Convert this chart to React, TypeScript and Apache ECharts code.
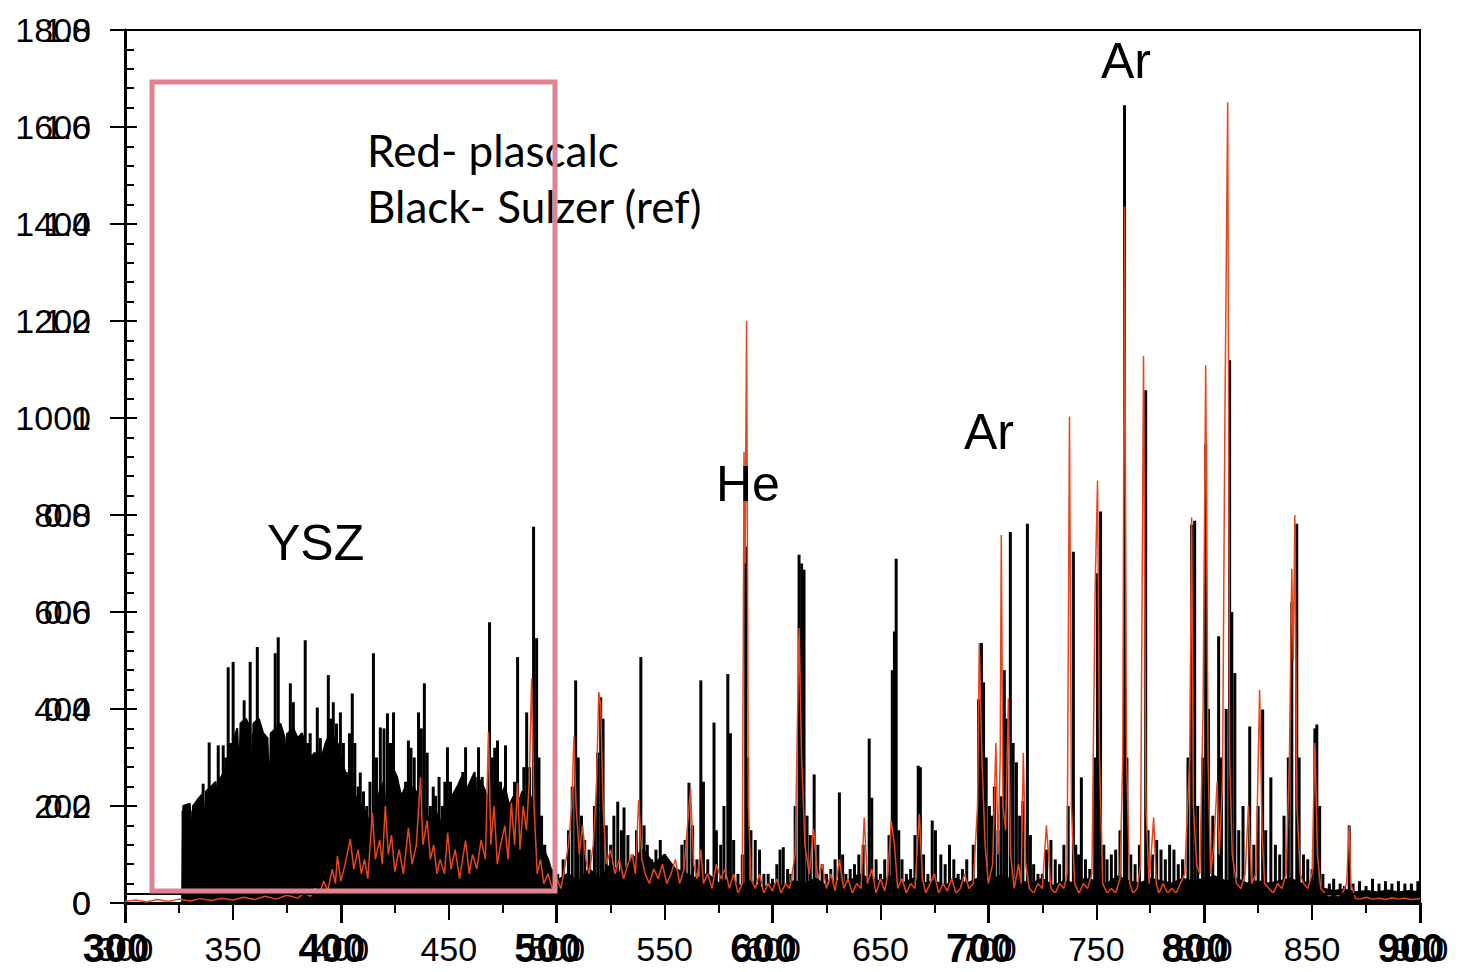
import React, { useEffect, useRef } from "react";
import * as echarts from "echarts";

// Black (Sulzer reference) dense background mass, [wavelength nm, intensity]
const blackEnvelope: [number, number][] = [
  [326.5, 0], [327, 200], [330, 205], [331, 120], [331.5, 200], [334, 215], [336, 225], [337, 140],
  [337.5, 230], [340, 240], [342, 250], [343.5, 150], [344, 255], [346, 270], [348, 300], [350, 330],
  [352, 360], [353, 250], [353.5, 370], [356, 380], [358, 360], [359, 220], [359.5, 370], [362, 380],
  [364, 350], [366, 340], [367, 200], [367.5, 350], [370, 360], [372, 370], [374, 340], [375, 230],
  [375.5, 350], [378, 360], [380, 340], [382, 350], [384, 320], [386, 300], [388, 310], [389, 180],
  [389.5, 310], [391, 300], [393, 330], [395, 350], [397, 340], [398, 200], [398.5, 330], [400, 300],
  [402, 270], [404, 250], [406, 230], [407, 140], [407.5, 220], [410, 200], [412, 180], [414, 160],
  [416, 200], [418, 230], [420, 250], [421, 140], [421.5, 260], [424, 280], [426, 260], [428, 220],
  [430, 240], [432, 250], [433, 150], [433.5, 240], [436, 220], [438, 200], [440, 180], [442, 170],
  [444, 190], [446, 160], [448, 200], [450, 210], [451, 120], [451.5, 220], [454, 240], [456, 260],
  [458, 230], [460, 250], [462, 270], [463, 150], [463.5, 260], [466, 240], [468, 220], [470, 230],
  [472, 250], [474, 220], [476, 240], [478, 200], [480, 220], [482, 200], [484, 230], [486, 210],
  [488, 220], [490, 160], [492, 140], [494, 110], [496, 90], [498, 60], [500, 45],
  [505, 60], [510, 45], [515, 70], [520, 50], [525, 80], [530, 60], [535, 90], [540, 110],
  [545, 80], [550, 100], [555, 70], [560, 60], [565, 50], [570, 60], [575, 40], [580, 50],
  [585, 35], [590, 45], [595, 30], [600, 40], [605, 35], [610, 45], [615, 40], [620, 50],
  [625, 35], [630, 45], [635, 40], [640, 60], [645, 50], [650, 45], [655, 55], [660, 40],
  [665, 50], [670, 40], [675, 45], [680, 35], [685, 50], [690, 40], [695, 50], [700, 45],
  [705, 55], [710, 50], [715, 45], [720, 40], [725, 50], [730, 35], [735, 45], [740, 40],
  [745, 50], [750, 45], [755, 40], [760, 55], [765, 45], [770, 40], [775, 50], [780, 45],
  [785, 40], [790, 50], [795, 45], [800, 50], [805, 55], [810, 45], [815, 50], [820, 40],
  [825, 45], [830, 40], [835, 45], [840, 50], [845, 40], [850, 45], [855, 30], [860, 25],
  [865, 28], [870, 22], [875, 25], [880, 22], [885, 26], [890, 22], [895, 25], [900, 22],
];

// Black (Sulzer reference) emission lines, [wavelength nm, intensity]
const blackPeaks: [number, number][] = [
  [326.9, 190], [328.5, 175], [330.2, 190], [331.8, 160], [333.4, 190], [335, 180], [336.2, 246],
  [337.5, 200], [339.0, 331], [340.5, 210], [341.8, 230], [343.2, 325], [344.3, 260], [345.5, 325],
  [346.7, 300], [347.8, 486], [348.9, 330], [350.1, 497], [351.3, 310], [352.5, 280], [353.8, 330],
  [355.2, 418], [356.6, 360], [358.0, 497], [359.5, 350], [361.3, 528], [362.5, 360], [364.0, 331],
  [365.5, 300], [367, 280], [368.3, 350], [369.6, 515], [371.0, 548], [372.5, 330], [374, 300],
  [375.3, 350], [376.6, 453], [378.0, 414], [379.5, 300], [381, 320], [382.3, 290], [383.5, 542],
  [384.7, 330], [385.8, 350], [387.3, 300], [389.1, 403], [390.5, 340], [392, 300], [393.2, 330],
  [394.2, 470], [395.3, 380], [396.5, 414], [398, 370], [399.8, 393], [401.2, 330], [402.5, 270],
  [404, 350], [405.3, 432], [406.5, 330], [408, 240], [409.0, 269], [410.5, 230], [412, 200],
  [413.5, 250], [415.1, 515], [416.5, 300], [418.3, 362], [420, 360], [421.6, 391], [423, 330],
  [424.4, 393], [425.8, 260], [427, 220], [428.5, 200], [430, 250], [431.3, 335], [432.5, 320],
  [434, 300], [436.0, 393], [437.3, 360], [438.7, 453], [440, 310], [441.5, 200], [442.8, 240],
  [443.9, 221], [445.5, 260], [447, 200], [448.2, 250], [449.4, 321], [450.8, 250], [452.5, 200],
  [454.1, 228], [455.5, 220], [456.5, 270], [457.8, 321], [459, 240], [460.5, 200], [462.3, 260],
  [463.8, 321], [465.5, 260], [467.3, 200], [468.9, 579], [470.2, 300], [471.3, 320], [472.6, 335],
  [474, 250], [476.3, 325], [477.5, 200], [479, 180], [480.5, 250], [481.9, 507], [483.3, 200],
  [484.8, 280], [486.1, 393], [487.5, 280], [489.3, 776], [490.7, 546], [491.8, 300], [493, 180],
  [494.5, 120], [495.8, 91], [497.5, 70],
  [500.5, 60], [503, 90], [505.5, 150], [507.2, 240], [508.8, 459], [510, 300], [511.5, 180],
  [513, 130], [515, 110], [517.5, 200], [519, 310], [520.4, 424], [521.5, 380], [523, 160],
  [525, 120], [526.5, 180], [528.3, 209], [530, 150], [531.2, 197], [533, 140], [535, 100],
  [537, 150], [539.0, 507], [540.5, 160], [542, 120], [544, 90], [546, 110], [548, 130],
  [550, 100], [552, 80], [554, 60], [556, 70], [558, 120], [559.5, 130], [561.3, 248], [563, 160],
  [565, 90], [566.8, 459], [568, 250], [570, 90], [572.9, 372], [574, 150], [576, 120],
  [577.5, 200], [579.3, 472], [580.5, 350], [582, 130], [584, 60], [586, 100], [587.6, 735],
  [588.5, 300], [590, 150], [592, 130], [594, 110], [596, 60], [598, 60], [600, 50], [602, 80],
  [603.5, 110], [605, 115], [607, 70], [608.5, 60], [610.5, 200], [612.3, 718], [613.5, 700],
  [614.6, 687], [616, 180], [617.5, 140], [619.3, 265], [621, 120], [623, 80], [625, 60],
  [627, 70], [629, 90], [631, 228], [632.5, 100], [634, 60], [636, 70], [638, 80], [640, 100],
  [642, 120], [644.8, 339], [646, 217], [648, 90], [650, 60], [652, 90], [654, 140], [655.5, 480],
  [656.5, 560], [657.3, 710], [658.5, 150], [660, 90], [662, 60], [664, 70], [666, 140],
  [667.5, 283], [668.5, 280], [670, 100], [672, 60], [674, 170], [675.5, 150], [678, 100],
  [680, 80], [682, 120], [684, 90], [686, 60], [688, 70], [690, 90], [693, 120], [695.5, 420],
  [696.8, 536], [697.8, 455], [699, 300], [700.5, 200],
  [701.5, 180], [702.8, 240], [704.5, 150], [706, 220], [707.4, 480], [708.5, 380], [710.2, 765],
  [711.5, 330], [713, 290], [714.5, 180], [716, 210], [718.1, 782], [719.5, 140], [721, 80],
  [723, 60], [725, 60], [727, 110], [729, 130], [731, 90], [733, 80], [735, 120], [737, 200],
  [739.4, 724], [740.5, 120], [741.8, 100], [743.1, 259], [745, 90], [747, 70], [749.3, 300],
  [750.6, 680], [752.0, 807], [753.5, 120], [755, 90], [757, 100], [759, 110], [761, 150],
  [763.1, 1645], [764.2, 300], [766, 100], [768, 80], [770, 120], [772.9, 1057], [774, 150],
  [776, 100], [778, 130], [780, 110], [782, 90], [784, 120], [786, 110], [788, 80], [790, 90],
  [792.5, 300], [794.2, 780], [795.6, 788], [797, 200], [799.3, 300], [800.7, 946], [802, 400],
  [804, 180], [806.7, 550], [808, 300], [810.2, 400], [811.8, 1119], [812.8, 600], [814.2, 474],
  [816, 150], [818, 200], [821.1, 364], [823, 120], [825, 200], [827.1, 399], [828.5, 150],
  [830.9, 259], [833, 120], [835, 100], [837, 180], [839, 300], [840.6, 620], [842.9, 782],
  [844, 300], [846, 100], [848, 90], [850, 70], [851.3, 360], [852.2, 368], [853.5, 200],
  [855, 60], [858, 40], [860, 50], [863, 40], [865, 35], [867.2, 160], [869, 40], [872, 45],
  [875, 35], [878, 50], [881, 40], [884, 45], [887, 40], [890, 45], [893, 40], [896, 40], [899, 45],
];

// Red (plascalc) calculated spectrum, [wavelength nm, intensity]
const redSpectrum: [number, number][] = [
  [300, 3], [305, 6], [310, 2], [315, 7], [320, 3], [325, 8], [330, 4], [335, 9], [340, 5],
  [345, 10], [350, 6], [355, 12], [360, 7], [365, 14], [370, 8], [375, 16], [380, 10], [383, 20],
  [386, 14], [388, 30], [390, 18], [392, 45], [394, 25], [396, 70], [397.5, 40], [398.4, 97],
  [400, 45], [402, 80], [404.4, 132], [406, 70], [408, 110], [409.5, 60], [411, 90], [412.5, 50],
  [414.6, 186], [416, 90], [418, 130], [419.2, 80], [420.6, 200], [422, 100], [423.5, 140],
  [425, 64], [427, 110], [429, 60], [431.3, 155], [433, 80], [435, 120], [436.9, 259], [438, 120],
  [440, 170], [441.5, 90], [443, 120], [444.5, 60], [446, 90], [448, 60], [449.5, 145], [451, 70],
  [453, 110], [455, 50], [457.8, 129], [459.5, 60], [461, 100], [463, 70], [465, 130], [467, 90],
  [468.4, 352], [469.5, 120], [471, 200], [472.5, 80], [474, 120], [476, 159], [477.5, 90],
  [479, 207], [480.5, 120], [481.9, 248], [483, 110], [484.5, 200], [486, 150], [487.3, 250],
  [488.4, 463], [489.5, 200], [491, 60], [492.5, 90], [494, 40], [496, 60], [498, 30], [500, 50],
  [502, 30], [504, 80], [505.5, 120], [507, 200], [508, 343], [509, 200], [510.5, 100],
  [512, 160], [513.5, 90], [515, 60], [517, 120], [518.5, 250], [519.5, 435], [520.4, 408],
  [521.5, 200], [523, 80], [525, 110], [527, 60], [529, 90], [531, 50], [533, 80], [535, 100],
  [536.5, 60], [538, 213], [539.5, 90], [541, 60], [543, 40], [545, 70], [547, 50], [549, 80],
  [551, 40], [553, 60], [555, 90], [557, 40], [559, 70], [562, 236], [563.5, 80], [565, 50],
  [566.8, 110], [568, 40], [570, 60], [572, 30], [574, 80], [576, 50], [578, 70], [580, 30],
  [582, 60], [584, 20], [586, 40], [586.8, 930], [587.3, 700], [588, 1200], [588.8, 200],
  [590, 50], [592, 30], [594, 60], [596, 20], [598, 40], [600, 25], [602, 50], [604, 20],
  [606, 40], [608, 30], [610.5, 100], [612.3, 567], [613.5, 300], [615, 120], [617, 60],
  [619, 153], [621, 50], [623, 80], [625, 30], [627, 60], [629, 25], [631, 90], [633, 30],
  [635, 50], [637, 20], [639, 40], [641, 30], [642.5, 176], [644, 40], [646, 70], [648, 20],
  [650, 50], [652, 25], [653.5, 60], [655, 170], [656.5, 120], [658, 30], [660, 50], [662, 20],
  [664, 40], [666, 30], [668, 184], [669.5, 50], [671, 20], [673, 40], [675, 60], [677, 20],
  [679, 40], [681, 25], [683, 50], [685, 20], [687, 30], [689, 60], [691, 30], [693, 40],
  [695, 200], [695.8, 536], [697, 300], [698.5, 120], [700, 40], [702, 80], [703.5, 330],
  [704.5, 100], [705.5, 300], [706.0, 759], [706.8, 200], [708, 150], [709.3, 422], [710.3, 100],
  [712, 30], [714, 80], [715.2, 40], [716.2, 310], [717.3, 80], [719, 30], [721, 20], [723, 40],
  [725, 30], [726.9, 160], [729, 30], [731, 20], [733, 40], [735, 30], [736.5, 60], [737.6, 1003],
  [738.5, 200], [740, 40], [742, 20], [744, 40], [746, 30], [748, 60], [749.5, 650], [750.6, 871],
  [751.5, 300], [753, 40], [755, 20], [757, 30], [759, 20], [761, 50], [762.3, 300], [763.1, 1436],
  [764, 300], [765.5, 40], [767, 20], [769, 30], [770.5, 80], [771.9, 1128], [773, 200],
  [774.5, 40], [776.6, 176], [777.8, 40], [779, 20], [781, 40], [783, 20], [785, 30], [787, 20],
  [789, 40], [791, 60], [793.3, 300], [794.2, 795], [795, 200], [796.5, 80], [798, 60],
  [799.5, 400], [800.7, 1109], [801.8, 300], [803, 60], [804.5, 120], [806, 250], [807, 100],
  [808.5, 250], [809.6, 993], [810.9, 1651], [811.8, 300], [813, 100], [815, 40], [817, 30],
  [819, 60], [820.5, 200], [822, 40], [824, 60], [825.7, 439], [826.8, 150], [828, 40], [830, 30],
  [832, 20], [834, 40], [836, 30], [838, 60], [839.5, 300], [840.6, 689], [841.3, 500],
  [842.0, 800], [843, 200], [844.5, 60], [846, 40], [848, 30], [850, 60], [851.3, 330],
  [852.5, 100], [854, 30], [856, 20], [858, 15], [860, 20], [862, 15], [864, 20], [866, 40],
  [867.2, 160], [868, 40], [870, 10], [872, 8], [875, 12], [878, 8], [881, 10], [884, 7],
  [887, 11], [890, 8], [893, 10], [896, 7], [900, 9],
];

const legendLines = ["Red- plascalc", "Black- Sulzer (ref)"];
const peakLabels = ["YSZ", "He", "Ar", "Ar"];

export default function App() {
  const ref = useRef<HTMLDivElement>(null);

  useEffect(() => {
    if (!ref.current) return;
    const chart = echarts.init(ref.current, null, { renderer: "svg" });
    const font = "Liberation Sans, Arial, sans-serif";
    const black = "#000";
    const red = "#e6461b";
    const labelFont = { fontFamily: font, fontSize: 50, fill: "#000" };

    chart.setOption({
      animation: false,
      backgroundColor: "#fff",
      textStyle: { fontFamily: font },
      grid: {
        left: 125,
        right: 50,
        top: 30,
        bottom: 69,
        show: true,
        borderColor: black,
        borderWidth: 2,
      },
      xAxis: [
        {
          type: "value",
          min: 300,
          max: 900,
          interval: 100,
          position: "bottom",
          axisLine: { show: true, onZero: false, lineStyle: { color: black, width: 3 } },
          axisTick: { show: true, length: 20, lineStyle: { color: black, width: 3 } },
          axisLabel: {
            color: black,
            fontSize: 40,
            fontWeight: "bold",
            fontFamily: font,
            margin: 25,
            padding: [0, 18, 0, 0],
            formatter: (v: number) => String(v),
          },
          splitLine: { show: false },
        },
        {
          type: "value",
          min: 300,
          max: 900,
          interval: 50,
          position: "bottom",
          axisLine: { show: false, onZero: false },
          axisTick: { show: true, length: 17, lineStyle: { color: black, width: 2 } },
          minorTick: { show: true, splitNumber: 2, length: 10, lineStyle: { color: black, width: 2 } },
          axisLabel: { color: black, fontSize: 34, fontFamily: font, margin: 29, formatter: (v: number) => String(v) },
          splitLine: { show: false },
        },
      ],
      yAxis: [
        {
          type: "value",
          min: 0,
          max: 1800,
          interval: 200,
          position: "left",
          axisLine: { show: true, onZero: false, lineStyle: { color: black, width: 3 } },
          axisTick: { show: true, length: 15, lineStyle: { color: black, width: 2 } },
          axisLabel: {
            color: black,
            fontSize: 34,
            fontFamily: font,
            margin: 34,
            formatter: (v: number) => String(v),
          },
          splitLine: { show: false },
        },
        {
          type: "value",
          min: 0,
          max: 1.8,
          interval: 0.2,
          position: "left",
          axisLine: { show: false, onZero: false },
          axisTick: { show: true, inside: true, length: 12, lineStyle: { color: black, width: 2 } },
          minorTick: { show: true, splitNumber: 5, length: 9, lineStyle: { color: black, width: 2 } },
          axisLabel: {
            color: black,
            fontSize: 34,
            fontFamily: font,
            margin: 34,
            formatter: (v: number) => (v === 0 ? "0" : String(Math.round(v * 10) / 10)),
          },
          splitLine: { show: false },
        },
      ],
      series: [
        {
          name: "Sulzer background",
          type: "line",
          xAxisIndex: 0,
          yAxisIndex: 0,
          data: blackEnvelope,
          symbol: "none",
          lineStyle: { color: black, width: 2 },
          areaStyle: { color: black, opacity: 1 },
          z: 2,
          markLine: {
            silent: true,
            symbol: "none",
            label: { show: false },
            lineStyle: { color: black, width: 2, type: "solid" },
            data: [{ yAxis: 20 }],
          },
        },
        {
          name: "Black- Sulzer (ref)",
          type: "bar",
          xAxisIndex: 0,
          yAxisIndex: 0,
          data: blackPeaks,
          barWidth: 3,
          itemStyle: { color: black },
          z: 3,
        },
        {
          name: "Red- plascalc",
          type: "line",
          xAxisIndex: 0,
          yAxisIndex: 0,
          data: redSpectrum,
          symbol: "none",
          lineStyle: { color: red, width: 1.5 },
          z: 4,
        },
      ],
      graphic: [
        {
          type: "text",
          x: 367,
          y: 150,
          style: { text: legendLines[0], fontFamily: "Lato", fontSize: 44, fill: "#000", verticalAlign: "middle" },
          z: 10,
        },
        {
          type: "text",
          x: 367,
          y: 206,
          style: { text: legendLines[1], fontFamily: "Lato", fontSize: 44, fill: "#000", verticalAlign: "middle" },
          z: 10,
        },
        { type: "text", x: 267, y: 543, style: { ...labelFont, text: peakLabels[0], verticalAlign: "middle" }, z: 10 },
        { type: "text", x: 716, y: 484, style: { ...labelFont, text: peakLabels[1], verticalAlign: "middle" }, z: 10 },
        { type: "text", x: 964, y: 432, style: { ...labelFont, text: peakLabels[2], verticalAlign: "middle" }, z: 10 },
        { type: "text", x: 1101, y: 61, style: { ...labelFont, text: peakLabels[3], verticalAlign: "middle" }, z: 10 },
        {
          type: "rect",
          shape: { x: 152, y: 82, width: 403, height: 809 },
          style: { fill: "none", stroke: "#e0828f", lineWidth: 5 },
          z: 20,
        },
      ],
    });

    return () => chart.dispose();
  }, []);

  return (
    <div
      ref={ref}
      style={{ position: "fixed", left: 0, top: 0, width: 1470, height: 972, background: "#fff" }}
    />
  );
}
